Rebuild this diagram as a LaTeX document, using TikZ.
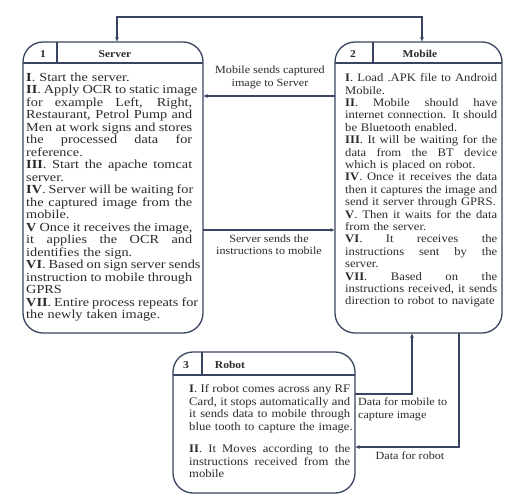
\documentclass[tikz,border=0pt]{standalone}
\usepackage{fontspec}
\setmainfont{Liberation Serif}
\newfontfamily\srvfont[FakeStretch=1.16]{Liberation Serif}
\newfontfamily\mobfont[FakeStretch=1.1]{Liberation Serif}
\usetikzlibrary{arrows.meta}
\definecolor{ln}{HTML}{394560}
\definecolor{tx}{HTML}{2B2B2B}
\newcommand\jl[1]{\hbox to \hsize{\spaceskip=0.25em plus 1fil\relax #1}}
\newcommand\pl[1]{\hbox{#1}}
\begin{document}
\begin{tikzpicture}[x=1pt,y=-1pt,
  box/.style={draw=ln, line width=1.3pt, rounded corners=20pt, inner sep=0pt, outer sep=0pt},
  sep/.style={draw=ln, line width=1.3pt},
  arr/.style={draw=ln, line width=1.3pt, -{Latex[length=4.5pt,width=3.8pt]}},
  arrb/.style={draw=ln, line width=1.3pt, {Latex[length=4.5pt,width=3.8pt]}-{Latex[length=4.5pt,width=3.8pt]}},
  head/.style={inner sep=0pt, text=tx, font=\mobfont\fontsize{10.5}{12}\selectfont\bfseries},
  body/.style={anchor=north west, inner sep=0pt, align=left, text=tx},
  lbl/.style={inner sep=0pt, align=center, text=tx, font=\mobfont\fontsize{11}{12.5}\selectfont}]
\useasboundingbox (0,0) rectangle (505,495);
\fill[white] (0,0) rectangle (505,495);
% boxes
\node[box, minimum width=180pt, minimum height=291pt] (server) at (113,187.5) {};
\node[box, minimum width=167pt, minimum height=291pt] (mobile) at (418.5,187.5) {};
\node[box, minimum width=182pt, minimum height=141pt] (robot) at (264,422.5) {};
% helper coordinates
\coordinate (hs) at (0,63);
\coordinate (hr) at (0,375);
\coordinate (d1) at (57,0);
\coordinate (d2) at (373,0);
\coordinate (d3) at (202,0);
% headers
\draw[sep] (server.west |- hs) -- (server.east |- hs);
\draw[sep] (mobile.west |- hs) -- (mobile.east |- hs);
\draw[sep] (robot.west |- hr) -- (robot.east |- hr);
\draw[sep] (d1 |- server.north) -- (d1 |- hs);
\draw[sep] (d2 |- mobile.north) -- (d2 |- hs);
\draw[sep] (d3 |- robot.north) -- (d3 |- hr);
\node[head] (n1) at (43,54) {1};
\node[head] (t1) at (115,54) {Server};
\node[head] (n2) at (353,54) {2};
\node[head] (t2) at (420,54) {Mobile};
\node[head] (n3) at (186,365) {3};
\node[head] (t3) at (230,365) {Robot};
% server text
\node[body, text width=166pt, font=\srvfont\fontsize{12.3}{12.5}\selectfont] (stext) at (26,72.5) {%
\pl{\textbf{I}. Start the server.}
\jl{\textbf{II}. Apply OCR to static image}
\jl{for example Left, Right,}
\jl{Restaurant, Petrol Pump and}
\jl{Men at work signs and stores}
\jl{the processed data for}
\pl{reference.}
\jl{\textbf{III}. Start the apache tomcat}
\pl{server.}
\jl{\textbf{IV}. Server will be waiting for}
\jl{the captured image from the}
\pl{mobile.}
\jl{\textbf{V} Once it receives the image,}
\jl{it applies the OCR and}
\pl{identifies the sign.}
\jl{\textbf{VI}. Based on sign server sends}
\jl{instruction to mobile through}
\pl{GPRS}
\jl{\textbf{VII}. Entire process repeats for}
\pl{the newly taken image.}};
% mobile text
\node[body, text width=152pt, font=\mobfont\fontsize{11.5}{12.4}\selectfont] (mtext) at (345,73.5) {%
\jl{\textbf{I}. Load .APK file to Android}
\pl{Mobile.}
\jl{\textbf{II}. Mobile should have}
\jl{internet connection. It should}
\pl{be Bluetooth enabled.}
\jl{\textbf{III}. It will be waiting for the}
\jl{data from the BT device}
\pl{which is placed on robot.}
\jl{\textbf{IV}. Once it receives the data}
\jl{then it captures the image and}
\pl{send it server through GPRS.}
\jl{\textbf{V}. Then it waits for the data}
\pl{from the server.}
\jl{\textbf{VI}. It receives the}
\jl{instructions sent by the}
\pl{server.}
\jl{\textbf{VII}. Based on the}
\jl{instructions received, it sends}
\pl{direction to robot to navigate}};
% robot text
\node[body, text width=161pt, font=\mobfont\fontsize{11.5}{12.5}\selectfont] (rtext) at (189,384.5) {%
\jl{\textbf{I}. If robot comes across any RF}
\jl{Card, it stops automatically and}
\jl{it sends data to mobile through}
\pl{blue tooth to capture the image.}
\vskip 9.8pt
\jl{\textbf{II}. It Moves according to the}
\jl{instructions received from the}
\pl{mobile}};
% connectors
\coordinate (tl) at (117,17);
\coordinate (tr) at (422,17);
\draw[arrb] (tl |- server.north) -- (tl) -- (tr) -- (tr |- mobile.north);
\coordinate (h1) at (0,96);
\coordinate (h2) at (0,230);
\draw[arr] (mobile.west |- h1) -- (server.east |- h1);
\draw[arr] (server.east |- h2) -- (mobile.west |- h2);
\coordinate (r1) at (0,394);
\coordinate (r2) at (0,447);
\coordinate (m1) at (412,0);
\coordinate (m2) at (459,0);
\draw[arr] (robot.east |- r1) -| (m1 |- mobile.south);
\draw[arr] (m2 |- mobile.south) |- (robot.east |- r2);
% labels
\node[lbl] (l1) at (270,77.5) {Mobile sends captured\\image to Server};
\node[lbl] (l2) at (269,244.5) {Server sends the\\instructions to mobile};
\node[lbl, anchor=west, align=left] (l3) at (358,409.5) {Data for mobile to\\capture image};
\node[lbl] (l4) at (410,456) {Data for robot};
\end{tikzpicture}
\end{document}
